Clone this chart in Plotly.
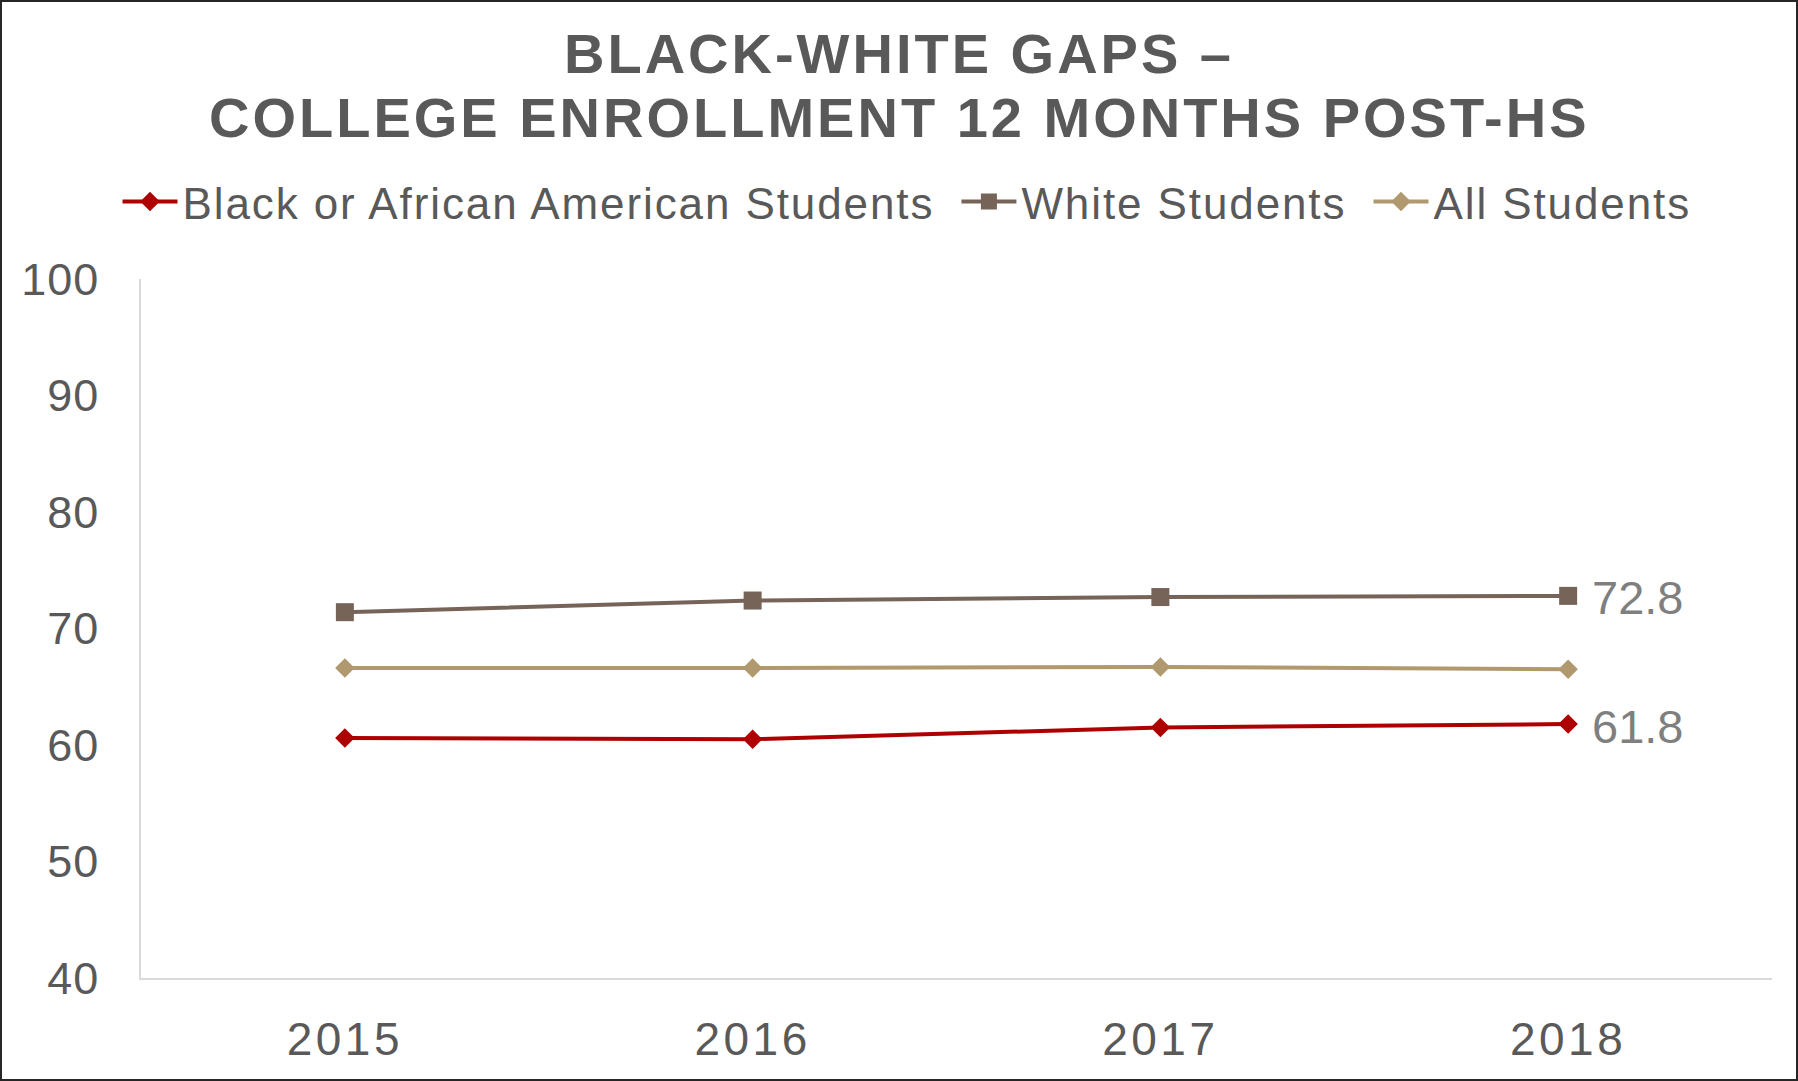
import plotly.graph_objects as go

# ---- data ----
years = ["2015", "2016", "2017", "2018"]
black_students = [60.6, 60.5, 61.5, 61.8]
white_students = [71.4, 72.4, 72.7, 72.8]
all_students = [66.6, 66.6, 66.7, 66.5]
series_names = ["Black or African American Students", "White Students", "All Students"]
title_lines = ["BLACK-WHITE GAPS –", "COLLEGE ENROLLMENT 12 MONTHS POST-HS"]
y_tick_values = [40, 50, 60, 70, 80, 90, 100]

# ---- styling ----
W, H = 1798, 1081
ML, MR, MT, MB = 141, 26, 279, 103
PW, PH = W - ML - MR, H - MT - MB
FONT = "Liberation Sans, Arial, sans-serif"
TXT = "#595959"
RED, BROWN, TAN = "#AE0000", "#766459", "#B0996E"


def spaced(s, px):
    return f"<span style='letter-spacing:{px}px'>{s}</span>"


def legend_name(s, tail_gap):
    # letter-spaced text; extra spacing after the last glyph widens the gap to the next entry
    return spaced(s[:-1], 1.9) + spaced(s[-1], tail_gap)


fig = go.Figure()
fig.add_trace(go.Scatter(
    x=years, y=black_students, name=legend_name(series_names[0], 19),
    mode="lines+markers",
    line=dict(color=RED, width=4),
    marker=dict(symbol="diamond", size=15, color=RED),
    cliponaxis=False,
))
fig.add_trace(go.Scatter(
    x=years, y=white_students, name=legend_name(series_names[1], 19),
    mode="lines+markers",
    line=dict(color=BROWN, width=4),
    marker=dict(symbol="square", size=18, color=BROWN),
    cliponaxis=False,
))
fig.add_trace(go.Scatter(
    x=years, y=all_students, name=legend_name(series_names[2], 1.9),
    mode="lines+markers",
    line=dict(color=TAN, width=4),
    marker=dict(symbol="diamond", size=15, color=TAN),
    cliponaxis=False,
))

# end-of-line value labels
for vals in (black_students, white_students):
    fig.add_annotation(x=len(years) - 1, y=vals[-1], text=f"{vals[-1]:.1f}",
                       xref="x", yref="y",
                       xanchor="left", yanchor="middle", xshift=22, yshift=-2,
                       showarrow=False,
                       font=dict(size=47, color="#7F7F7F", family=FONT))

title_x = (899 - ML) / PW
fig.add_annotation(text=spaced(title_lines[0], 3), xref="paper", yref="paper",
                   x=title_x, y=(H - MB - 53) / PH, xanchor="center", yanchor="middle",
                   showarrow=False, font=dict(size=56, color=TXT, family=FONT, weight="bold"))
fig.add_annotation(text=spaced(title_lines[1], 3), xref="paper", yref="paper",
                   x=title_x, y=(H - MB - 117) / PH, xanchor="center", yanchor="middle",
                   showarrow=False, font=dict(size=56, color=TXT, family=FONT, weight="bold"))

# outer frame
fig.add_shape(type="rect", xref="paper", yref="paper",
              x0=(-ML + 1) / PW, x1=1 + (MR - 1) / PW,
              y0=(-MB + 1) / PH, y1=1 + (MT - 1) / PH,
              line=dict(color="#262626", width=2), fillcolor="rgba(0,0,0,0)", layer="above")

fig.update_layout(
    width=W, height=H,
    margin=dict(l=ML, r=MR, t=MT, b=MB),
    paper_bgcolor="white", plot_bgcolor="white",
    font=dict(family=FONT, color=TXT),
    showlegend=True,
    legend=dict(orientation="h", xref="container", yref="container",
                x=0.5 + 8 / W, xanchor="center", y=1 - 202 / H, yanchor="middle",
                font=dict(size=44, color=TXT, family=FONT),
                itemwidth=55, bgcolor="rgba(0,0,0,0)"),
    xaxis=dict(type="category", range=[-0.5, 3.5], showgrid=False, zeroline=False,
               showline=True, linecolor="#D9D9D9", linewidth=1.5, ticks="",
               tickvals=years, ticktext=[spaced(y, 3.5) for y in years],
               tickfont=dict(size=46, color=TXT, family=FONT), ticklabelstandoff=20),
    yaxis=dict(range=[40, 100], tickvals=y_tick_values,
               ticktext=[spaced(v, 1) for v in y_tick_values],
               showgrid=False, zeroline=False,
               showline=True, linecolor="#D9D9D9", linewidth=1.5, ticks="",
               tickfont=dict(size=45, color=TXT, family=FONT), ticklabelstandoff=31),
)

fig.write_html("out.html")
